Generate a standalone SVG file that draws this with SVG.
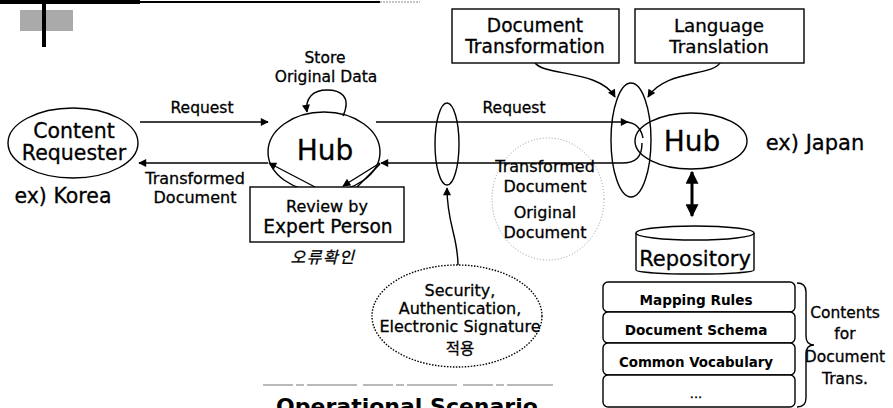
<svg xmlns="http://www.w3.org/2000/svg" width="893" height="408" viewBox="0 0 893 408">
<style>
text{font-family:"DejaVu Sans","Noto Sans",sans-serif;fill:#000;text-anchor:middle;stroke:#000;stroke-width:0.3}
.kr{font-family:"Noto Sans CJK KR","DejaVu Sans",sans-serif}
.b{font-weight:bold;stroke-width:0}
.s{fill:none;stroke:#000;stroke-width:1.4}
.box{fill:#fff;stroke:#000;stroke-width:1.4}
.ln{fill:none;stroke:#000;stroke-width:1.4}
</style>
<defs>
<marker id="ah" viewBox="0 0 10 10" refX="9" refY="5" markerWidth="10" markerHeight="8" markerUnits="userSpaceOnUse" orient="auto"><path d="M0,0 L10,5 L0,10 z" fill="#000"/></marker>
<marker id="ahb" viewBox="0 0 10 10" refX="9" refY="5" markerWidth="14" markerHeight="13" markerUnits="userSpaceOnUse" orient="auto-start-reverse"><path d="M0,0 L10,5 L0,10 z" fill="#000"/></marker>
</defs>

<g id="decoration">
<line x1="0" y1="2" x2="140" y2="2" stroke="#000" stroke-width="4"/>
<line x1="140" y1="2" x2="380" y2="2" stroke="#000" stroke-width="2"/>
<line x1="380" y1="2" x2="420" y2="2" stroke="#888" stroke-width="1" stroke-dasharray="2 1"/>
<rect x="20" y="10" width="53" height="21" fill="#aaa"/>
<line x1="44" y1="0" x2="44" y2="47" stroke="#000" stroke-width="4"/>
</g>

<g id="connectors">
<line class="ln" x1="140" y1="122" x2="268" y2="122" marker-end="url(#ah)"/>
<line class="ln" x1="268" y1="163" x2="139" y2="163" marker-end="url(#ah)"/>
<path class="ln" d="M343,116 C352,96 340,90 327,90 C313,90 305,98 307,112" marker-end="url(#ah)"/>
<line class="ln" x1="376" y1="122" x2="628" y2="122" marker-end="url(#ah)"/>
<path class="ln" d="M626,122 Q640,123 643,138"/>
<path class="ln" d="M642,143 C642,157 636,163 622,163 L381,163" marker-end="url(#ah)"/>
<line class="ln" x1="380" y1="163" x2="343" y2="186" marker-end="url(#ah)"/>
<line class="ln" x1="357" y1="187" x2="380" y2="164"/>
<line class="ln" x1="315" y1="187" x2="269" y2="163" marker-end="url(#ah)"/>
<path class="ln" d="M535,63 C545,76 600,70 615,97" marker-end="url(#ah)"/>
<path class="ln" d="M720,63 C712,76 665,70 648,97" marker-end="url(#ah)"/>
<path class="ln" d="M458,266 C458,235 447,225 447,188" marker-end="url(#ah)"/>
<line x1="692" y1="172" x2="692" y2="216" stroke="#000" stroke-width="3" marker-start="url(#ahb)" marker-end="url(#ahb)"/>
</g>

<g id="content-requester">
<ellipse class="s" cx="73" cy="143" rx="65" ry="35"/>
<text x="74" y="138" font-size="20.5">Content</text>
<text x="74" y="160" font-size="20.5">Requester</text>
</g>
<text x="63" y="203" font-size="20.5">ex) Korea</text>

<g id="label-request-left"><text x="202" y="113" font-size="15.5">Request</text></g>
<g id="label-transformed-left">
<text x="195" y="184" font-size="16">Transformed</text>
<text x="195" y="203" font-size="16">Document</text>
</g>

<g id="hub-left">
<ellipse class="s" cx="324" cy="152" rx="56" ry="40"/>
<text x="325" y="160" font-size="28">Hub</text>
</g>
<g id="label-store">
<text x="325" y="63" font-size="15.5">Store</text>
<text x="326" y="82" font-size="15.5">Original Data</text>
</g>

<g id="review-box">
<rect class="box" x="250" y="187" width="154" height="55"/>
<text x="327" y="212" font-size="16">Review by</text>
<text x="328" y="233" font-size="18.6">Expert Person</text>
</g>
<text class="kr" x="323" y="263" font-size="16" font-style="italic" letter-spacing="1.5">오류확인</text>

<g id="bundle-left"><ellipse class="s" cx="447" cy="144" rx="12" ry="41"/></g>
<g id="label-request-right"><text x="514" y="113" font-size="15.5">Request</text></g>

<g id="docs-circle">
<ellipse cx="548" cy="199" rx="56" ry="61" fill="none" stroke="#999" stroke-width="1" stroke-dasharray="1 2"/>
<text x="545" y="172" font-size="16">Transformed</text>
<text x="545" y="192" font-size="16">Document</text>
<text x="545" y="218" font-size="16">Original</text>
<text x="545" y="238" font-size="16">Document</text>
</g>

<g id="security">
<ellipse cx="457" cy="316" rx="85" ry="51" fill="#fff" stroke="#000" stroke-width="1.4" stroke-dasharray="1.5 1.5"/>
<text x="460" y="296" font-size="16">Security,</text>
<text x="460" y="314" font-size="16">Authentication,</text>
<text x="460" y="332" font-size="16">Electronic Signature</text>
<text class="kr" x="460" y="354" font-size="15.5">적용</text>
</g>

<g id="doc-transformation">
<rect class="box" x="452" y="9" width="167" height="54"/>
<text x="535" y="32" font-size="18.6">Document</text>
<text x="535" y="53" font-size="18.6">Transformation</text>
</g>
<g id="language-translation">
<rect class="box" x="635" y="9" width="169" height="54"/>
<text x="719" y="32" font-size="18.3">Language</text>
<text x="719" y="53" font-size="18.3">Translation</text>
</g>

<g id="bundle-right"><ellipse class="s" cx="631" cy="140" rx="20" ry="57"/></g>
<g id="hub-right">
<ellipse class="s" cx="691" cy="141" rx="56" ry="28"/>
<text x="692" y="151" font-size="28">Hub</text>
</g>
<text x="815" y="150" font-size="21">ex) Japan</text>

<g id="repository">
<path class="box" d="M636,233 V270 A59,4 0 0 0 754,270 V233"/>
<ellipse class="box" cx="695" cy="233" rx="59" ry="7"/>
<text x="695" y="266" font-size="21">Repository</text>
</g>

<g id="stack">
<rect class="box" x="603" y="282" width="192" height="30" rx="5"/>
<rect class="box" x="603" y="312" width="192" height="31" rx="5"/>
<rect class="box" x="603" y="343" width="192" height="32" rx="5"/>
<rect class="box" x="603" y="375" width="192" height="32" rx="5"/>
<text class="b" x="696" y="305" font-size="13.6">Mapping Rules</text>
<text class="b" x="696" y="335" font-size="13.6">Document Schema</text>
<text class="b" x="696" y="367" font-size="13.4">Common Vocabulary</text>
<text x="696" y="398" font-size="13">...</text>
</g>

<g id="contents-label">
<path class="ln" d="M797,283 Q806,283 806,292 V336 Q806,345 814,345 Q806,345 806,354 V398 Q806,407 797,407"/>
<text x="845" y="318" font-size="15.5">Contents</text>
<text x="845" y="339" font-size="15.5">for</text>
<text x="845" y="362" font-size="15.5">Document</text>
<text x="845" y="384" font-size="15.5">Trans.</text>
</g>

<g id="caption">
<line x1="263" y1="385" x2="553" y2="385" stroke="#777" stroke-width="1" stroke-dasharray="30 3 8 3 50 6"/>
<text class="b" x="407" y="414" font-size="22">Operational Scenario</text>
</g>
</svg>
